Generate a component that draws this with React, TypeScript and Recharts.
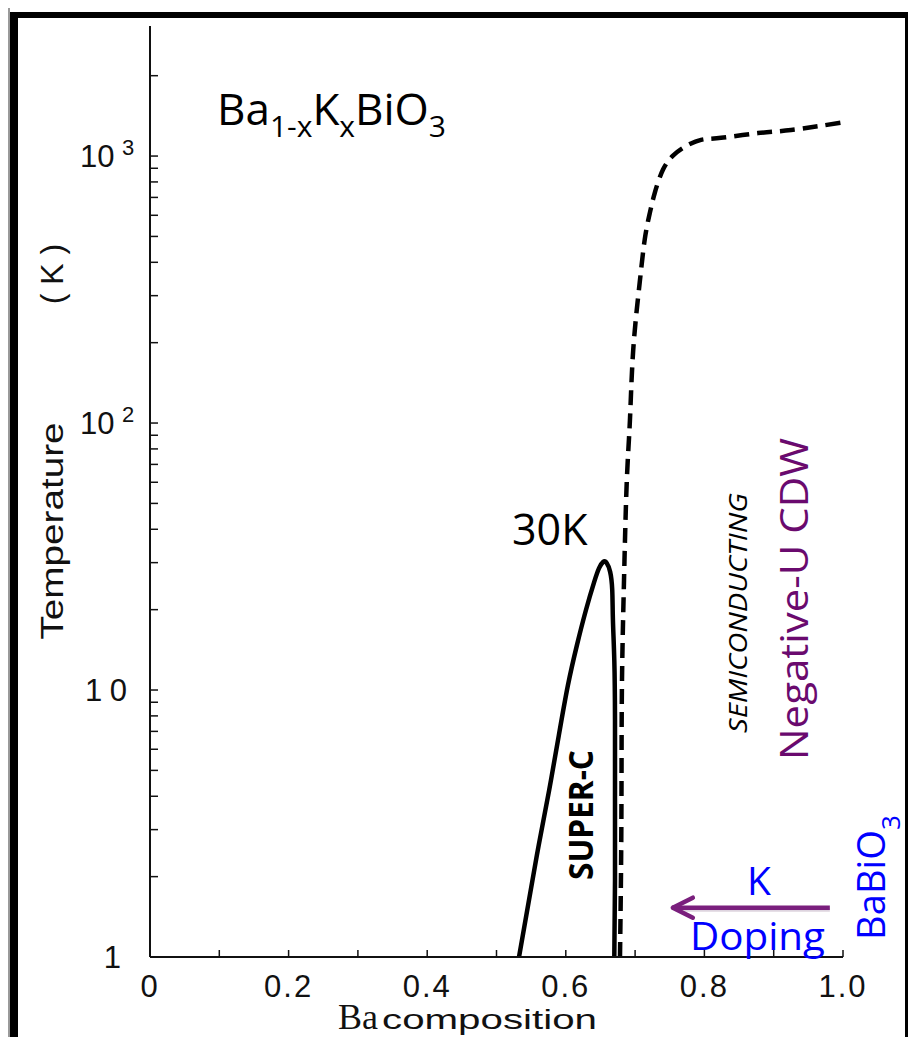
import { ComposedChart, Line, XAxis, YAxis, ReferenceLine } from "recharts";

// Ba composition ticks (bottom/top), labels only on the even ones
const xTicks = [0, 0.1, 0.2, 0.3, 0.4, 0.5, 0.6, 0.7, 0.8, 0.9, 1.0];
const xTickLabels = ["0", "", "0.2", "", "0.4", "", "0.6", "", "0.8", "", "1.0"];

// temperature ticks (log), decades get a label
const yTicksLeft = [
	1, 2, 3, 4, 5, 6, 7, 8, 9,
	10, 20, 30, 40, 50, 60, 70, 80, 90,
	100, 200, 300, 400, 500, 600, 700, 800, 900,
	1000, 2000,
];
const yTicksRight = [1, 10, 100, 1000];

// superconducting dome (solid), up the left side and down the right
const domeX = [
	0.5325, 0.547, 0.561, 0.576, 0.59, 0.603, 0.616, 0.629, 0.641, 0.648, 0.654,
	0.659, 0.664, 0.667, 0.668, 0.67, 0.671, 0.671, 0.671, 0.67,
];
const domeT = [
	1, 1.64, 2.63, 4.22, 6.78, 10.4, 14.7, 19.9, 25.4, 28.6, 30.2,
	29.9, 27.7, 23.7, 18.3, 12.9, 7.72, 3.87, 1.94, 1,
];

// CDW / semiconducting boundary (dashed)
const cdwX = [
	0.6782, 0.6797, 0.6804, 0.6811, 0.684, 0.6879, 0.6925, 0.6973, 0.7066, 0.7139,
	0.7211, 0.7283, 0.7403, 0.7547, 0.7716, 0.7951, 0.824, 0.8773, 0.925, 0.9986,
];
const cdwT = [
	1, 2.12, 4.6, 10.9, 25.8, 59.7, 102, 188, 335, 487,
	610, 727, 890, 1004, 1083, 1150, 1170, 1219, 1252, 1335,
];

const dome = domeX.map((x, i) => ({ x, t: domeT[i] }));
const cdw = cdwX.map((x, i) => ({ x, t: cdwT[i] }));

const AXIS_FONT = "'Liberation Sans', Arial, sans-serif";
const NOTE_FONT = "'Open Sans', 'Noto Sans', sans-serif";
const PURPLE = "#6a0a6e";
const BLUE = "#0000ff";

function BottomTick(props: any) {
	const { x, y, payload } = props;
	const idx = xTicks.indexOf(payload.value);
	const label = xTickLabels[idx] || "";
	return (
		<g>
			<line x1={x} x2={x} y1={y} y2={y - 7} stroke="#111" strokeWidth={1.5} />
			{label && (
				<text x={x} y={y + 40} textAnchor="middle" fontFamily={AXIS_FONT} fontSize={31} letterSpacing={2} fill="#111">
					{label}
				</text>
			)}
		</g>
	);
}

function TopTick(props: any) {
	const { x, y } = props;
	return <line x1={x} x2={x} y1={y} y2={y + 10} stroke="#111" strokeWidth={1.5} />;
}

function RightTick(props: any) {
	const { x, y } = props;
	return <line x1={x} x2={x - 12} y1={y} y2={y} stroke="#111" strokeWidth={1.5} />;
}

function LeftTick(props: any) {
	const { x, y, payload } = props;
	const v = payload.value;
	let label = null;
	if (v === 1) {
		label = (
			<text x={121} y={y + 11} textAnchor="end" fontFamily={AXIS_FONT} fontSize={31} fill="#111">1</text>
		);
	} else if (v === 10) {
		label = (
			<text x={85} y={y + 11} textLength={42} lengthAdjust="spacing" fontFamily={AXIS_FONT} fontSize={31} fill="#111">10</text>
		);
	} else if (v === 100 || v === 1000) {
		label = (
			<text x={80} y={y + 11} fontFamily={AXIS_FONT} fontSize={31} fill="#111">
				10
				<tspan x={122} y={y - 1} fontSize={22}>{v === 100 ? "2" : "3"}</tspan>
			</text>
		);
	}
	return (
		<g>
			<line x1={x} x2={x + 8} y1={y} y2={y} stroke="#111" strokeWidth={1.5} />
			{label}
		</g>
	);
}

function DopingArrow(props: any) {
	const { x1, y1, x2, y2 } = props;
	const c = "#7a1f7d";
	return (
		<g>
			<line x1={x1} y1={y1 + 2} x2={x2 + 4} y2={y2 + 2} stroke="#c9b9ca" strokeWidth={4} opacity={0.6} />
			<line x1={x1} y1={y1} x2={x2} y2={y2} stroke={c} strokeWidth={4.5} />
			<polyline
				points={`${x2 + 21},${y2 - 10} ${x2 + 1},${y2} ${x2 + 21},${y2 + 10}`}
				fill="none"
				stroke={c}
				strokeWidth={4.5}
				strokeLinecap="round"
				strokeLinejoin="round"
			/>
		</g>
	);
}

function Frame() {
	const bar = (s: React.CSSProperties) => <div style={{ position: "absolute", ...s }} />;
	return (
		<>
			{bar({ left: 0, top: 0, width: 7, height: 1045, background: "#000" })}
			{bar({ left: 7, top: 0, width: 3, height: 1045, background: "#9a9a9a" })}
			{bar({ left: 10, top: 12, width: 8, height: 1033, background: "#000" })}
			{bar({ left: 10, top: 12, width: 906, height: 6, background: "#000" })}
			{bar({ left: 905, top: 12, width: 11, height: 1033, background: "#000" })}
			{bar({ left: 10, top: 1042, width: 906, height: 2, background: "#444" })}
		</>
	);
}

export default function App() {
	return (
		<div style={{ position: "relative", width: 916, height: 1045, margin: -8, background: "#fff", overflow: "hidden" }}>
			<div style={{ position: "absolute", left: 0, top: 0 }}>
				<ComposedChart width={916} height={1045} margin={{ top: 26, right: 73, bottom: 0, left: 0 }}>
					<XAxis
						xAxisId="bottom"
						dataKey="x"
						type="number"
						domain={[0, 1]}
						allowDataOverflow
						ticks={xTicks}
						interval={0}
						height={88}
						tickSize={0}
						tickMargin={0}
						tickLine={false}
						tick={BottomTick}
						axisLine={{ stroke: "#111", strokeWidth: 2 }}
					/>
					<XAxis
						xAxisId="top"
						orientation="top"
						type="number"
						domain={[0, 1]}
						ticks={xTicks}
						interval={0}
						height={0}
						tickSize={0}
						tickMargin={0}
						tickLine={false}
						tick={TopTick}
						axisLine={{ stroke: "#111", strokeWidth: 2 }}
					/>
					<YAxis
						yAxisId="left"
						scale="log"
						type="number"
						domain={[1, 3070]}
						allowDataOverflow
						ticks={yTicksLeft}
						interval={0}
						width={150}
						tickSize={0}
						tickMargin={0}
						tickLine={false}
						tick={LeftTick}
						axisLine={{ stroke: "#111", strokeWidth: 2 }}
					/>
					<YAxis
						yAxisId="right"
						orientation="right"
						scale="log"
						type="number"
						domain={[1, 3070]}
						allowDataOverflow
						ticks={yTicksRight}
						interval={0}
						width={0}
						tickSize={0}
						tickMargin={0}
						tickLine={false}
						tick={RightTick}
						axisLine={{ stroke: "#111", strokeWidth: 2 }}
					/>
					<Line
						xAxisId="bottom"
						yAxisId="left"
						data={dome}
						dataKey="t"
						type="natural"
						stroke="#000"
						strokeWidth={4.5}
						dot={false}
						isAnimationActive={false}
					/>
					<Line
						xAxisId="bottom"
						yAxisId="left"
						data={cdw}
						dataKey="t"
						type="natural"
						stroke="#000"
						strokeWidth={4.5}
						strokeDasharray="15 8"
						dot={false}
						isAnimationActive={false}
					/>
					<ReferenceLine
						xAxisId="bottom"
						yAxisId="left"
						segment={[{ x: 0.981, y: 1.53 }, { x: 0.753, y: 1.53 }]}
						ifOverflow="visible"
						shape={DopingArrow}
					/>
				</ComposedChart>
			</div>
			<svg width={916} height={1045} style={{ position: "absolute", left: 0, top: 0, pointerEvents: "none" }}>
				<text x={217} y={125} fontFamily={NOTE_FONT} fontSize={44} fill="#000">
					Ba
					<tspan fontSize={30} dy={12}>1-x</tspan>
					<tspan fontSize={44} dy={-12}>K</tspan>
					<tspan fontSize={30} dy={12}>x</tspan>
					<tspan fontSize={44} dy={-12}>BiO</tspan>
					<tspan fontSize={30} dy={12}>3</tspan>
				</text>
				<text x={512} y={545} fontFamily={NOTE_FONT} fontSize={43} fill="#000">30K</text>
				<text transform="translate(593,880) rotate(-90)" fontFamily={NOTE_FONT} fontWeight={700} fontSize={34} textLength={130} lengthAdjust="spacingAndGlyphs" fill="#000">
					SUPER-C
				</text>
				<text transform="translate(747,733) rotate(-90)" fontFamily={NOTE_FONT} fontStyle="italic" fontSize={26} textLength={240} lengthAdjust="spacingAndGlyphs" fill="#000">
					SEMICONDUCTING
				</text>
				<text transform="translate(808,760) rotate(-90)" fontFamily={NOTE_FONT} fontSize={39} textLength={322} lengthAdjust="spacingAndGlyphs" fill={PURPLE}>
					Negative-U CDW
				</text>
				<text transform="translate(885,940) rotate(-90)" fontFamily={NOTE_FONT} fontSize={38} fill={BLUE}>
					<tspan textLength={110} lengthAdjust="spacingAndGlyphs">BaBiO</tspan>
					<tspan fontSize={26} dy={15}>3</tspan>
				</text>
				<text x={759} y={895} textAnchor="middle" fontFamily={NOTE_FONT} fontSize={39} fill={BLUE}>K</text>
				<text x={690} y={950} fontFamily={NOTE_FONT} fontSize={39} textLength={135} lengthAdjust="spacingAndGlyphs" fill={BLUE}>Doping</text>
				<text transform="translate(63,531) rotate(-90)" textAnchor="middle" fontFamily={AXIS_FONT} fontSize={32} textLength={217} lengthAdjust="spacingAndGlyphs" fill="#111">
					Temperature
				</text>
				<text transform="translate(63,274) rotate(-90)" textAnchor="middle" fontFamily={AXIS_FONT} fontSize={32} fill="#111">
					( K )
				</text>
				<text x={338} y={1029} fontFamily="'Liberation Serif', 'Times New Roman', serif" fontSize={36} textLength={40} lengthAdjust="spacingAndGlyphs" fill="#111">Ba</text>
				<text x={382} y={1029} fontFamily={AXIS_FONT} fontSize={27} textLength={215} lengthAdjust="spacingAndGlyphs" fill="#111">composition</text>
			</svg>
			<Frame />
		</div>
	);
}
